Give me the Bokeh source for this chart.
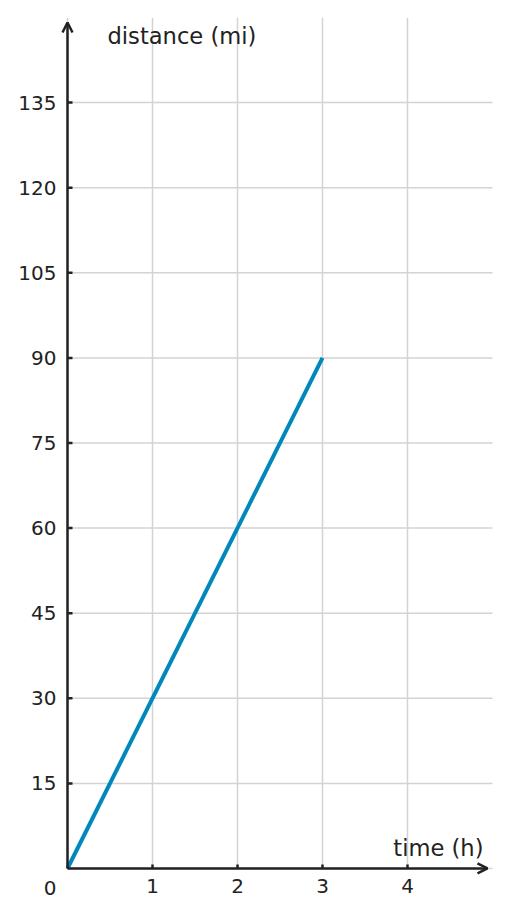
import math
from bokeh.plotting import figure
from bokeh.models import FixedTicker, Range1d, Arrow, OpenHead
from bokeh.core.properties import value
from bokeh.embed import file_html
from bokeh.resources import INLINE

# data
time_h = [0, 3]
distance_mi = [0, 90]

x_ticks = [1, 2, 3, 4]
y_ticks = [15, 30, 45, 60, 75, 90, 105, 120, 135]
x_grid = [0, 1, 2, 3, 4]
y_grid = [0, 15, 30, 45, 60, 75, 90, 105, 120, 135]
origin_label = "0"
x_max = 5
y_max = 150

FONT = "DejaVu Sans"
INK = "#222222"
GRID = "#d3d3d3"

PX_X = 85.0          # pixels per hour
PX_Y = 85.0 / 15.0   # pixels per mile

p = figure(width=494, height=901, output_backend="svg", toolbar_location=None,
           x_range=Range1d(-8 / PX_X, (494 - 67) / PX_X),
           y_range=Range1d(-7 / PX_Y, y_max),
           min_border_left=59, min_border_right=0, min_border_top=17, min_border_bottom=26)
p.outline_line_color = None
p.grid.visible = False

# grid lines
p.segment(x0=x_grid, y0=[0] * len(x_grid), x1=x_grid, y1=[y_max] * len(x_grid),
          line_color=GRID, line_width=1.5)
p.segment(x0=[0] * len(y_grid), y0=y_grid, x1=[x_max] * len(y_grid), y1=y_grid,
          line_color=GRID, line_width=1.5)

for ax, ticks, standoff in ((p.xaxis, x_ticks, 3), (p.yaxis, [0] + y_ticks, 3)):
    ax.ticker = FixedTicker(ticks=ticks)
    ax.axis_line_color = None
    ax.major_tick_in = 0
    ax.major_tick_out = 0
    ax.major_tick_line_color = None
    ax.minor_tick_line_color = None
    ax.major_label_text_font = FONT
    ax.major_label_text_font_size = "20px"
    ax.major_label_text_color = INK
    ax.major_label_standoff = standoff

# the origin's "0" sits below the corner: a two-line label on the y axis
p.yaxis.major_label_overrides = {0: "\n" + origin_label}
p.yaxis.major_label_text_line_height = 1.65

# data line
p.line(time_h, distance_mi, line_width=4, line_color="#0088BB")

# axis arrows
p.add_layout(Arrow(x_start=0, y_start=0, x_end=(487 - 67) / PX_X, y_end=0, line_color=INK, line_width=2.5,
                   end=OpenHead(size=10, line_color=INK, line_width=2.5)))
p.add_layout(Arrow(x_start=0, y_start=0, x_end=0, y_end=(868 - 23) / PX_Y, line_color=INK, line_width=2.5,
                   end=OpenHead(size=10, line_color=INK, line_width=2.5)))

# tick marks on the axes
p.ray(x=[0] * len(y_ticks), y=y_ticks, length=5, length_units="screen", angle=0,
      line_color=INK, line_width=2.5)
p.ray(x=x_ticks, y=[0] * len(x_ticks), length=4, length_units="screen", angle=math.pi / 2,
      line_color=INK, line_width=2.5)

# axis titles
p.text(x=[0], y=[y_max], text=["distance (mi)"], x_offset=40, y_offset=18, text_font=value(FONT),
       text_font_size="22.6px", text_color=INK, text_align="left", text_baseline="middle")
p.text(x=[x_max], y=[0], text=["time (h)"], x_offset=-9, y_offset=-20, text_font=value(FONT),
       text_font_size="22.6px", text_color=INK, text_align="right", text_baseline="middle")

open("out.html", "w").write(file_html(p, INLINE))
